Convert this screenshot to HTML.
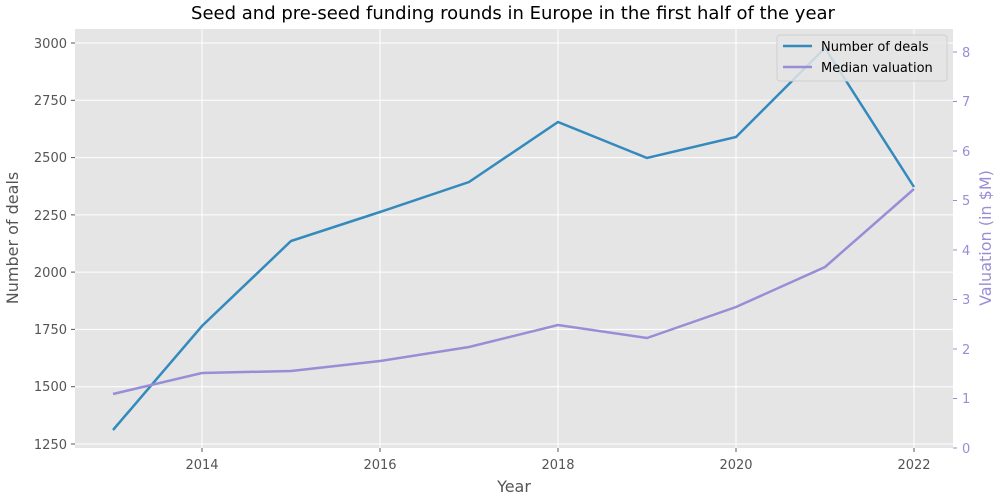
<!DOCTYPE html>
<html><head><meta charset="utf-8"><style>body{margin:0;background:#fff}svg{display:block;font-family:"DejaVu Sans","Liberation Sans",sans-serif}</style></head><body>
<svg width="1000" height="500" xmlns="http://www.w3.org/2000/svg">
<rect x="75" y="29" width="878" height="419" fill="#e5e5e5"/>
<g stroke="#fff" stroke-width="1">
<line x1="202" y1="29" x2="202" y2="448"/><line x1="380" y1="29" x2="380" y2="448"/><line x1="558" y1="29" x2="558" y2="448"/><line x1="736" y1="29" x2="736" y2="448"/><line x1="914" y1="29" x2="914" y2="448"/>
<line x1="75" y1="43" x2="953" y2="43"/><line x1="75" y1="100.3" x2="953" y2="100.3"/><line x1="75" y1="157.6" x2="953" y2="157.6"/><line x1="75" y1="214.9" x2="953" y2="214.9"/><line x1="75" y1="272.1" x2="953" y2="272.1"/><line x1="75" y1="329.4" x2="953" y2="329.4"/><line x1="75" y1="386.7" x2="953" y2="386.7"/><line x1="75" y1="444" x2="953" y2="444"/>
</g>
<g stroke="#555" stroke-width="1">
<line x1="202" y1="448" x2="202" y2="452"/><line x1="380" y1="448" x2="380" y2="452"/><line x1="558" y1="448" x2="558" y2="452"/><line x1="736" y1="448" x2="736" y2="452"/><line x1="914" y1="448" x2="914" y2="452"/>
<line x1="71" y1="43" x2="75" y2="43"/><line x1="71" y1="100.3" x2="75" y2="100.3"/><line x1="71" y1="157.6" x2="75" y2="157.6"/><line x1="71" y1="214.9" x2="75" y2="214.9"/><line x1="71" y1="272.1" x2="75" y2="272.1"/><line x1="71" y1="329.4" x2="75" y2="329.4"/><line x1="71" y1="386.7" x2="75" y2="386.7"/><line x1="71" y1="444" x2="75" y2="444"/>
</g>
<g stroke="#988ED5" stroke-width="1">
<line x1="953" y1="448" x2="957" y2="448"/><line x1="953" y1="398.5" x2="957" y2="398.5"/><line x1="953" y1="349" x2="957" y2="349"/><line x1="953" y1="299.5" x2="957" y2="299.5"/><line x1="953" y1="250" x2="957" y2="250"/><line x1="953" y1="200.5" x2="957" y2="200.5"/><line x1="953" y1="151" x2="957" y2="151"/><line x1="953" y1="101.5" x2="957" y2="101.5"/><line x1="953" y1="52" x2="957" y2="52"/>
</g>
<g font-size="13" fill="#555" text-anchor="middle">
<text x="202" y="469">2014</text><text x="380" y="469">2016</text><text x="558" y="469">2018</text><text x="736" y="469">2020</text><text x="914" y="469">2022</text>
</g>
<g font-size="13" fill="#555" text-anchor="end">
<text x="67" y="48">3000</text><text x="67" y="105">2750</text><text x="67" y="162">2500</text><text x="67" y="220">2250</text><text x="67" y="277">2000</text><text x="67" y="334">1750</text><text x="67" y="391">1500</text><text x="67" y="449">1250</text>
</g>
<g font-size="13" fill="#988ED5">
<text x="962" y="453">0</text><text x="962" y="403">1</text><text x="962" y="354">2</text><text x="962" y="304">3</text><text x="962" y="255">4</text><text x="962" y="205">5</text><text x="962" y="156">6</text><text x="962" y="106">7</text><text x="962" y="57">8</text>
</g>
<text x="513" y="19" font-size="18" text-anchor="middle" fill="#000">Seed and pre-seed funding rounds in Europe in the first half of the year</text>
<text x="514" y="492" font-size="16" text-anchor="middle" fill="#555">Year</text>
<text transform="translate(18,238) rotate(-90)" font-size="16" text-anchor="middle" fill="#555">Number of deals</text>
<text transform="translate(991,238) rotate(-90)" font-size="16" text-anchor="middle" fill="#988ED5">Valuation (in $M)</text>
<polyline fill="none" stroke="#348ABD" stroke-width="2.5" points="113,430 202,326 291,241 380,212 469,182 558,122 647,158 736,137 825,48 914,187"/>
<polyline fill="none" stroke="#988ED5" stroke-width="2.5" points="113,394 202,373 291,371 380,361 469,347 558,325 647,338 736,307 825,267 914,189"/>
<rect x="777" y="35" width="170" height="46" rx="3" fill="#e5e5e5" fill-opacity="0.85" stroke="#d0d0d0"/>
<line x1="783" y1="46" x2="812" y2="46" stroke="#348ABD" stroke-width="2.5"/>
<line x1="783" y1="67" x2="812" y2="67" stroke="#988ED5" stroke-width="2.5"/>
<text x="821" y="51" font-size="13" fill="#000">Number of deals</text>
<text x="821" y="72" font-size="13" fill="#000">Median valuation</text>
</svg>
</body></html>
